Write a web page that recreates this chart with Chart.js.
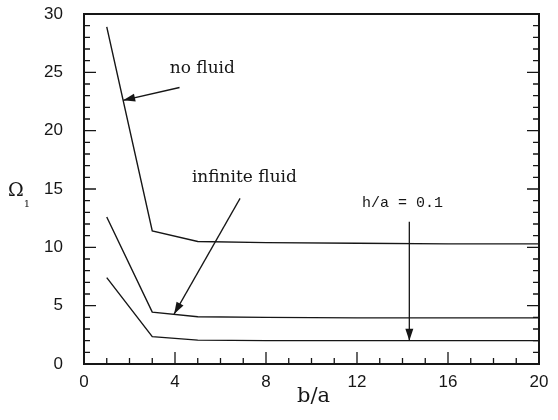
<!DOCTYPE html>
<html>
<head>
<meta charset="utf-8">
<script src="https://cdn.jsdelivr.net/npm/chart.js@4/dist/chart.umd.min.js"></script>
<style>
	html, body {margin: 0; padding: 0; background: #fff;}
	canvas {display: block;}
</style>
</head>
<body>
<canvas id="omega-chart" width="558" height="420"></canvas>
<script>
// values
const ratioBA = [1, 3, 5, 8, 12, 16, 20];
const noFluid = [28.9, 11.4, 10.5, 10.4, 10.35, 10.3, 10.3];
const infiniteFluid = [12.6, 4.45, 4.05, 4.0, 3.95, 3.95, 3.95];
const thinLayer = [7.4, 2.35, 2.05, 2.0, 2.0, 2.0, 2.0];
const curveLabels = ['no fluid', 'infinite fluid', 'h/a = 0.1'];
const xTitle = 'b/a';
const yTitle = 'Ω';

const ink = '#161616';
const toPoints = (ys) => ratioBA.map((x, i) => ({x: x, y: ys[i]}));
const lineSet = (label, ys) => ({label: label, data: toPoints(ys), showLine: true, borderColor: ink, borderWidth: 1.4, pointRadius: 0, fill: false, tension: 0});

// where the labels and arrows sit, in data units
const notes = [
	{font: '17px "DejaVu Serif"', at: [5.2, 25.3], from: [4.2, 23.7], to: [1.72, 22.6]},
	{font: '17px "DejaVu Serif"', at: [7.05, 16.0], from: [6.86, 14.2], to: [3.96, 4.28]},
	{font: '15px "Liberation Mono"', at: [14.0, 13.8], from: [14.3, 12.2], to: [14.3, 2.0]}
];

const arrow = (ctx, x1, y1, x2, y2) => {
	ctx.beginPath(); ctx.moveTo(x1, y1); ctx.lineTo(x2, y2); ctx.stroke();
	const ang = Math.atan2(y2 - y1, x2 - x1), len = 12, half = 4;
	const bx = x2 - len * Math.cos(ang), by = y2 - len * Math.sin(ang);
	ctx.beginPath();
	ctx.moveTo(x2, y2);
	ctx.lineTo(bx + half * Math.sin(ang), by - half * Math.cos(ang));
	ctx.lineTo(bx - half * Math.sin(ang), by + half * Math.cos(ang));
	ctx.closePath(); ctx.fill();
};

const frameAndNotes = {
	id: 'frameAndNotes',
	afterDraw(chart) {
		const {ctx, chartArea: a, scales: {x, y}} = chart;
		ctx.save();
		ctx.strokeStyle = ink; ctx.fillStyle = ink;
		ctx.lineWidth = 2;
		ctx.strokeRect(a.left, a.top, a.right - a.left, a.bottom - a.top);
		ctx.lineWidth = 1.3;
		ctx.beginPath();
		for (let v = 1; v < 20; v++) {
			const px = x.getPixelForValue(v), len = v % 4 === 0 ? 12 : 6;
			ctx.moveTo(px, a.bottom); ctx.lineTo(px, a.bottom - len);
		}
		for (let v = 1; v < 30; v++) {
			const py = y.getPixelForValue(v), len = v % 5 === 0 ? 12 : 6;
			ctx.moveTo(a.left, py); ctx.lineTo(a.left + len, py);
			ctx.moveTo(a.right, py); ctx.lineTo(a.right - len, py);
		}
		ctx.stroke();

		ctx.lineWidth = 1.3;
		notes.forEach((n, i) => {
			arrow(ctx, x.getPixelForValue(n.from[0]), y.getPixelForValue(n.from[1]), x.getPixelForValue(n.to[0]), y.getPixelForValue(n.to[1]));
			ctx.font = n.font;
			ctx.textAlign = 'center'; ctx.textBaseline = 'middle';
			ctx.fillText(curveLabels[i], x.getPixelForValue(n.at[0]), y.getPixelForValue(n.at[1]));
		});

		// axis titles
		ctx.font = '21px "DejaVu Serif"';
		ctx.fillText(xTitle, (a.left + a.right) / 2 + 2, 397);
		ctx.font = '19px "DejaVu Serif"';
		ctx.fillText(yTitle, 16, y.getPixelForValue(15) + 2);
		ctx.font = '10px "DejaVu Serif"';
		ctx.fillText('1', 27, y.getPixelForValue(15) + 15);
		ctx.restore();
	}
};

const config = {
	type: 'scatter',
	data: {datasets: [lineSet(curveLabels[0], noFluid), lineSet(curveLabels[1], infiniteFluid), lineSet(curveLabels[2], thinLayer)]},
	options: {
		responsive: false,
		animation: false,
		layout: {padding: {top: 14, right: 19, left: 0, bottom: 0}},
		plugins: {legend: {display: false}, tooltip: {enabled: false}},
		scales: {
			x: {
				type: 'linear', min: 0, max: 20,
				grid: {display: false, drawTicks: false}, border: {display: false},
				ticks: {stepSize: 4, maxRotation: 0, padding: 8, color: ink, font: {family: '"Liberation Sans"', size: 17}},
				afterFit: (s) => { s.height = 56; s.paddingLeft = 0; s.paddingRight = 0; }
			},
			y: {
				type: 'linear', min: 0, max: 30,
				grid: {display: false, drawTicks: false}, border: {display: false},
				ticks: {stepSize: 5, padding: 21, color: ink, font: {family: '"Liberation Sans"', size: 17}},
				afterFit: (s) => { s.width = 84; s.paddingTop = 0; s.paddingBottom = 0; }
			}
		}
	},
	plugins: [frameAndNotes]
};

const omegaChart = new Chart(document.getElementById('omega-chart'), config);
</script>
</body>
</html>
